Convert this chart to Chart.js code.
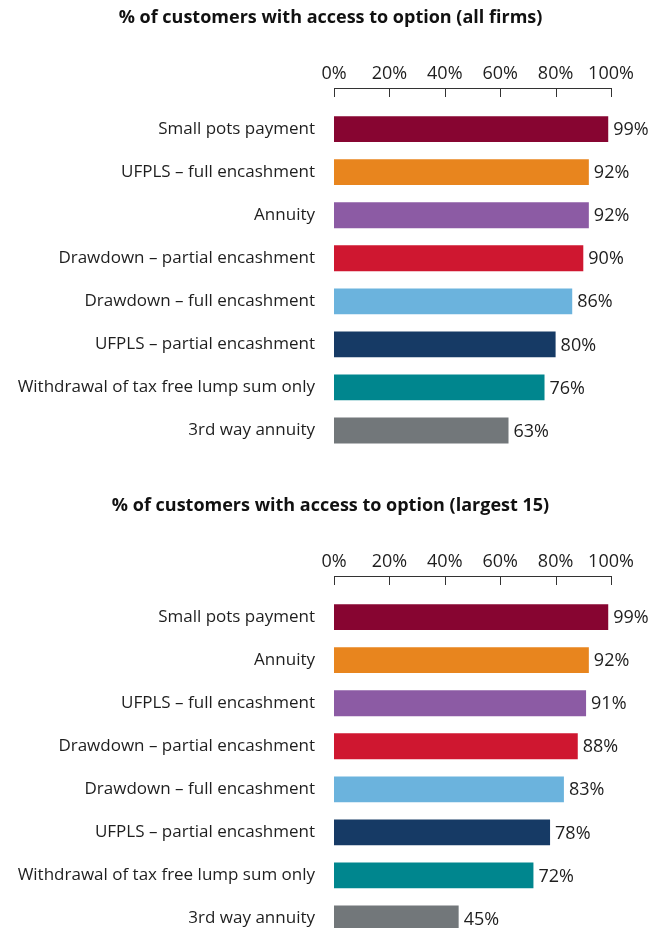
<!DOCTYPE html>
<html>
<head>
<meta charset="utf-8">
<script src="https://cdn.jsdelivr.net/npm/chart.js@4/dist/chart.umd.min.js"></script>
<style>
  html, body { margin: 0; padding: 0; background: #fff; }
  #wrap { width: 651px; height: 928px; overflow: hidden; }
  .box { width: 651px; height: 488px; position: relative; }
</style>
</head>
<body>
<div id="wrap">
  <div class="box"><canvas id="allFirms"></canvas></div>
  <div class="box"><canvas id="largest15"></canvas></div>
</div>
<script>
// Access to retirement options, % of customers
const allFirmsLabels = [
    "Small pots payment",
    "UFPLS \u2013 full encashment",
    "Annuity",
    "Drawdown \u2013 partial encashment",
    "Drawdown \u2013 full encashment",
    "UFPLS \u2013 partial encashment",
    "Withdrawal of tax free lump sum only",
    "3rd way annuity",
];
const allFirmsValues = [99, 92, 92, 90, 86, 80, 76, 63];

const largest15Labels = [
    "Small pots payment",
    "Annuity",
    "UFPLS \u2013 full encashment",
    "Drawdown \u2013 partial encashment",
    "Drawdown \u2013 full encashment",
    "UFPLS \u2013 partial encashment",
    "Withdrawal of tax free lump sum only",
    "3rd way annuity",
];
const largest15Values = [99, 92, 91, 88, 83, 78, 72, 45];

const xTicks = [0, 20, 40, 60, 80, 100];

const barColors = [
    "#870531",
    "#E8851E",
    "#8C5BA4",
    "#CF1730",
    "#6BB3DD",
    "#163A65",
    "#00868E",
    "#72777A",
];

const FONT = "'Open Sans', 'Noto Sans', sans-serif";
const TEXT = "#1e1e1e";

// axis line with tick marks hanging below it, on the top x scale
const topAxisPlugin = {
    id: "topAxis",
    afterDraw(chart) {
        const { ctx, scales: { x } } = chart;
        const lineY = Math.round(chart.chartArea.top) - 20;
        ctx.save();
        ctx.strokeStyle = "#333333";
        ctx.lineWidth = 1;
        ctx.beginPath();
        ctx.moveTo(x.getPixelForValue(xTicks[0]), lineY + 0.5);
        ctx.lineTo(x.getPixelForValue(xTicks[xTicks.length - 1]) + 1, lineY + 0.5);
        xTicks.forEach((t) => {
            const px = Math.round(x.getPixelForValue(t)) + 0.5;
            ctx.moveTo(px, lineY);
            ctx.lineTo(px, lineY + 9);
        });
        ctx.stroke();
        ctx.restore();
    },
};

// value labels at the end of each bar
const valueLabelPlugin = {
    id: "valueLabels",
    afterDatasetsDraw(chart) {
        const { ctx } = chart;
        const meta = chart.getDatasetMeta(0);
        const data = chart.data.datasets[0].data;
        ctx.save();
        ctx.font = "18px " + FONT;
        ctx.fillStyle = TEXT;
        ctx.textAlign = "left";
        ctx.textBaseline = "middle";
        meta.data.forEach((bar, i) => {
            ctx.fillText(data[i] + "%", bar.x + 5, bar.y + 1);
        });
        ctx.restore();
    },
};

function makeChart(id, title, labels, values) {
    return new Chart(document.getElementById(id), {
        type: "bar",
        data: {
            labels: labels,
            datasets: [
                {
                    data: values,
                    backgroundColor: barColors,
                    borderWidth: 0,
                    barPercentage: 0.6,
                    categoryPercentage: 1,
                },
            ],
        },
        options: {
            indexAxis: "y",
            responsive: true,
            maintainAspectRatio: false,
            animation: false,
            layout: { padding: { left: 10, right: 0, top: 0, bottom: 36 } },
            plugins: {
                legend: { display: false },
                tooltip: { enabled: false },
                title: {
                    display: true,
                    text: title,
                    color: "#111111",
                    font: { family: FONT, size: 18, weight: "bold" },
                    padding: { top: 7, bottom: 0 },
                },
            },
            scales: {
                x: {
                    position: "top",
                    min: 0,
                    max: 100,
                    afterBuildTicks(scale) {
                        scale.ticks = xTicks.map((v) => ({ value: v }));
                    },
                    ticks: {
                        callback: (v) => v + "%",
                        color: TEXT,
                        font: { family: FONT, size: 18 },
                        padding: 15,
                        maxRotation: 0,
                    },
                    grid: { display: false },
                    border: { display: false },
                    afterFit(scale) {
                        scale.height = 79;
                    },
                },
                y: {
                    ticks: {
                        color: TEXT,
                        font: { family: FONT, size: 17 },
                        padding: 19,
                    },
                    grid: { display: false, drawTicks: false },
                    border: { display: false },
                    afterFit(scale) {
                        scale.width = 324;
                    },
                },
                // empty strip on the right that holds the value labels
                yRight: {
                    type: "linear",
                    position: "right",
                    ticks: { display: false },
                    grid: { display: false },
                    border: { display: false },
                    afterFit(scale) {
                        scale.width = 40;
                    },
                },
            },
        },
        plugins: [topAxisPlugin, valueLabelPlugin],
    });
}

makeChart("allFirms", "% of customers with access to option (all firms)", allFirmsLabels, allFirmsValues);
makeChart("largest15", "% of customers with access to option (largest 15)", largest15Labels, largest15Values);
</script>
</body>
</html>
